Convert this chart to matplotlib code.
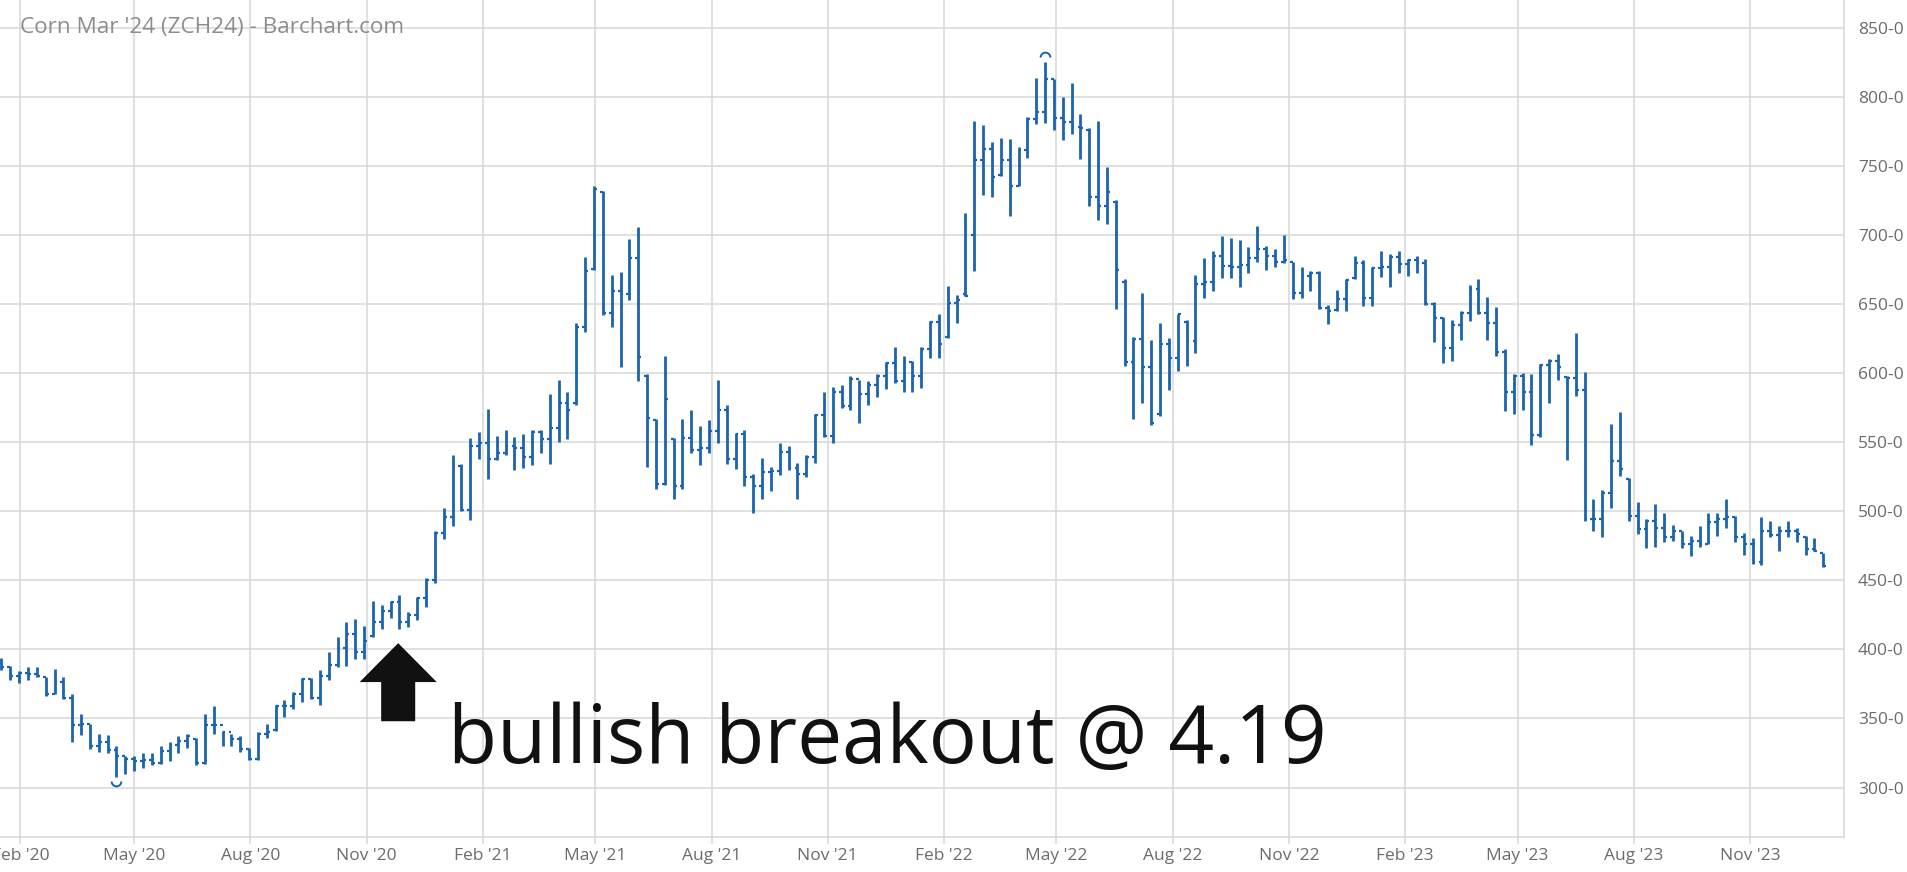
import numpy as np
import pandas as pd
import matplotlib
matplotlib.use("Agg")
import matplotlib.pyplot as plt
import matplotlib.dates as mdates
from matplotlib.path import Path

# weekly OHLC for Corn Mar '24 (ZCH24)
first_week = "2020-01-17"

opens = [
    390, 387, 381, 383, 382, 380, 368, 376.5, 365, 345,
    346, 330, 333, 327, 323, 320.5, 319, 320, 318, 326.5,
    331, 334, 335, 318, 345, 345, 340, 335, 328, 320.5,
    339, 342, 359, 359, 368, 378.5, 365, 381, 389, 401,
    411, 398, 410, 419.5, 428, 434, 420, 425, 437, 450.5,
    484.5, 496, 532.5, 501, 547, 549, 537.5, 542, 547.5, 546,
    539.5, 557.5, 552.5, 560, 578, 578, 633, 675, 731, 643.5,
    659.5, 657.5, 683, 598, 566, 520, 552, 518, 553, 544,
    545.5, 558, 573.5, 538, 555.5, 525, 518.5, 528.5, 529, 543,
    531.5, 527, 539.5, 569.5, 554.5, 586, 576, 595.5, 585, 591.5,
    598, 607, 594.5, 608, 597.5, 617.5, 637, 626, 651, 657,
    700, 754, 762, 743, 754, 735, 761.5, 784, 788.5, 813,
    784.5, 781.5, 778, 776, 727, 720.5, 724, 666, 608, 624.5,
    604, 570, 621, 610.5, 637, 623.5, 664.5, 666, 685, 677.5,
    677, 678, 683.5, 690, 685, 680.5, 680, 658, 670.5, 672,
    647, 645.5, 653.5, 669, 679.5, 654, 676, 677, 684, 679,
    681.5, 679.5, 650, 639.5, 618, 635, 643.5, 660.5, 643.5, 636,
    615.5, 586, 597.5, 586.5, 555, 605.5, 609, 597, 596.5, 588,
    494, 494, 513.5, 536.5, 523, 496.5, 487, 493, 488, 481.5,
    486, 476, 478.5, 476.5, 492.5, 494, 496, 481, 476.5, 463.5,
    486, 482.5, 485.5, 486, 481.5, 472.5, 470,
]

highs = [
    394, 388, 384.5, 387, 387, 380, 386, 380, 368, 353,
    346, 339, 338, 330, 323, 323, 325, 325, 330, 333,
    337, 339, 336, 353, 359, 341, 339, 337, 329, 340,
    346, 360, 363.5, 369, 379, 379, 385, 398, 409, 419.5,
    422, 417, 435, 432, 435, 439, 427, 438, 451.5, 485.5,
    502.5, 541, 534, 553, 557.5, 574, 554.5, 559, 554, 556,
    558.5, 558.5, 585, 595, 586.5, 636.5, 684, 735, 732, 671,
    673, 697, 706, 599, 567, 612, 553, 566.5, 573.5, 561.5,
    566, 595, 577, 556.5, 558.5, 527, 538.5, 532, 549.5, 547.5,
    535, 540.5, 570, 586.5, 590, 591, 597.5, 595, 594.5, 599.5,
    608, 618.5, 612, 608.5, 618.5, 637.5, 643, 663, 656.5, 716,
    782, 779.5, 767, 770, 769.5, 763.5, 785, 813.5, 825, 813,
    800, 809.5, 787.5, 777, 782, 749, 725.5, 668, 626, 658,
    624, 636.5, 625, 643, 638, 671, 683.5, 688, 699, 698,
    696, 691.5, 706.5, 692, 689.5, 700, 680.5, 677, 673.5, 674,
    649.5, 660, 668, 685, 681.5, 676.5, 688.5, 686, 688, 682.5,
    685, 682.5, 651.5, 640.5, 638.5, 644.5, 664, 668, 655, 647.5,
    617.5, 599.5, 600, 599, 606.5, 610, 614, 597.5, 629, 600.5,
    508.5, 515, 563, 571.5, 524, 507, 494, 505.5, 499, 490,
    486, 482, 489.5, 499, 498.5, 508.5, 496.5, 484, 480.5, 496,
    493, 489.5, 493, 487.5, 482, 480.5, 470,
]

lows = [
    385, 378, 376, 378, 380, 366, 368, 364, 333, 338,
    328, 326, 325, 308, 310, 312, 314, 316, 317, 319,
    325, 329, 316, 317, 339, 330, 330, 326, 320, 320,
    336, 341, 351, 357, 362, 364, 360, 378, 387, 388,
    393, 393, 409, 415, 423, 415, 416, 421, 430.5, 448,
    480, 489, 500.5, 493.5, 537.5, 523.5, 537, 540.5, 529.5, 531.5,
    533.5, 542, 534, 550, 552.5, 577, 630, 674.5, 642, 633.5,
    604, 653, 594.5, 532, 516, 519, 509, 516, 542, 533.5,
    542, 549, 534, 530.5, 518, 499, 509, 514.5, 526, 530,
    508.5, 524.5, 535, 554, 549.5, 575, 573, 564, 577, 582.5,
    588.5, 593, 586, 586, 589.5, 611, 611, 625, 636, 655.5,
    674, 729, 727, 742.5, 713.5, 735, 755.5, 780, 781, 776,
    768.5, 773, 755, 721, 710.5, 708, 646, 605, 567, 578,
    562.5, 569, 588, 601.5, 605, 614.5, 654.5, 659.5, 668.5, 668.5,
    662.5, 672, 680.5, 674.5, 677, 679.5, 653.5, 654, 659, 646,
    635.5, 645, 644.5, 668, 648.5, 648.5, 669.5, 662, 672, 670,
    672.5, 649.5, 622.5, 607, 609, 624, 637.5, 643, 624, 612,
    572.5, 570, 573, 548, 554, 578, 595, 537, 583.5, 493,
    486, 481, 502, 525.5, 493, 483.5, 473.5, 474, 477.5, 478.5,
    473.5, 467.5, 474, 476, 482, 487.5, 477.5, 468, 461.5, 461,
    481.5, 471, 481.5, 478, 468.5, 471, 459.5,
]

closes = [
    387, 381, 383, 382, 381, 368, 376.5, 365, 345, 346,
    330, 333, 327, 323, 320.5, 319, 320, 318, 326.5, 331,
    334, 337, 318, 345, 345, 340, 335, 328, 320.5, 339,
    340, 359, 359, 368, 378.5, 365, 381, 389, 401, 411,
    398, 406, 419.5, 428, 434, 420, 425, 437, 450.5, 484.5,
    496, 532.5, 501, 547, 549, 537.5, 542, 547.5, 546, 539.5,
    557.5, 552.5, 560, 578, 573.5, 633, 673.5, 733, 643.5, 659.5,
    657.5, 683, 611.5, 567.5, 520, 581, 518, 553, 544, 545.5,
    558, 573.5, 538, 555.5, 525, 518.5, 528.5, 529, 543, 531.5,
    527, 539.5, 569.5, 554.5, 586, 576, 595.5, 585, 591.5, 598,
    607, 594.5, 608, 597.5, 617.5, 637, 621, 651, 653, 656,
    754, 762, 742, 754, 735, 761.5, 784, 788.5, 813, 784.5,
    781.5, 778, 777.5, 727, 720.5, 731, 674.5, 608, 624.5, 604,
    564, 621, 610.5, 642.5, 623.5, 664.5, 666, 685, 677.5, 677,
    678, 683.5, 690, 685, 680.5, 681.5, 658, 670.5, 672, 647,
    644.5, 653.5, 667, 679.5, 654, 676, 677, 684, 679, 681.5,
    679.5, 650, 639.5, 618, 635, 643.5, 660.5, 643.5, 636, 615.5,
    586, 597.5, 586.5, 555, 605.5, 609, 604, 596.5, 588, 494,
    494, 513.5, 536.5, 530.5, 496.5, 487, 493, 488, 481.5, 486,
    476, 478.5, 476.5, 492.5, 494, 496, 481, 476.5, 463.5, 486,
    482.5, 485.5, 486, 483.5, 472.5, 471.5, 460.5,
]

y_ticks = [300, 350, 400, 450, 500, 550, 600, 650, 700, 750, 800, 850]
title = "Corn Mar '24 (ZCH24) - Barchart.com"
note = "bullish breakout @ 4.19"
arrow_date = "2020-11-26"
arrow_tip, arrow_tail = 404.5, 348

BAR = "#1a63ae"
GRID = "#d7d7d7"
LABEL = "#6b6b6b"

dates = pd.date_range(first_week, periods=len(closes), freq="W-FRI")
x = mdates.date2num(dates)

fig = plt.figure(figsize=(19.07, 8.72), dpi=100)
ax = fig.add_axes([0, 0.0407, 0.967, 0.9593])

# OHLC bars: range line, open tick left, close tick right
ax.vlines(x, lows, highs, color=BAR, lw=2.0, zorder=3)
ax.hlines(opens, x - 2.3, x, color=BAR, lw=1.6, zorder=3)
ax.hlines(closes, x, x + 2.3, color=BAR, lw=1.6, zorder=3)

# contract low / high markers
i_lo = int(np.argmin(lows))
i_hi = int(np.argmax(highs))
ax.plot(x[i_lo], lows[i_lo] - 3.5, marker=Path.arc(180, 360), ms=7,
        mfc="none", mec=BAR, mew=1.4, zorder=3)
ax.plot(x[i_hi], highs[i_hi] + 3.5, marker=Path.arc(0, 180), ms=7,
        mfc="none", mec=BAR, mew=1.4, zorder=3)

ax.set_xlim(mdates.date2num(pd.Timestamp("2020-01-15 20:00")),
            mdates.date2num(pd.Timestamp("2024-01-14 10:00")))
ax.set_ylim(264.6, 869.9)

ax.xaxis.set_major_locator(mdates.MonthLocator(bymonth=[2, 5, 8, 11]))
ax.xaxis.set_major_formatter(mdates.DateFormatter("%b '%y"))
ax.yaxis.tick_right()
ax.set_yticks(y_ticks)
ax.set_yticklabels([f"{v}-0" for v in y_ticks])

ax.grid(True, color=GRID, lw=1.1, zorder=0)
ax.set_axisbelow(True)
for side in ["left", "top"]:
    ax.spines[side].set_visible(False)
for side in ["right", "bottom"]:
    ax.spines[side].set_color(GRID)
    ax.spines[side].set_linewidth(1.1)

ax.tick_params(axis="x", length=5, width=1.1, color=GRID, pad=3,
               labelsize=12.5, labelcolor=LABEL)
ax.tick_params(axis="y", length=0, pad=10, labelsize=12.5, labelcolor=LABEL)
for lab in ax.get_xticklabels() + ax.get_yticklabels():
    lab.set_family("Open Sans")

fig.text(19.5 / 1907, 1 - 28 / 872, title, va="center", ha="left",
         fontsize=16.2, color="#8c8c8c", family="Open Sans")

ax.annotate("", xy=(mdates.date2num(pd.Timestamp(arrow_date)), arrow_tip),
            xytext=(mdates.date2num(pd.Timestamp(arrow_date)), arrow_tail),
            arrowprops=dict(facecolor="#111111", edgecolor="none",
                            width=24.5, headwidth=55.5, headlength=28, shrink=0),
            zorder=4)

fig.text(447.6 / 1907, 1 - 763 / 872, note, va="baseline", ha="left",
         fontsize=57.7, color="#111111", family="Open Sans")

fig.savefig("out.png", dpi=100, facecolor="white")
